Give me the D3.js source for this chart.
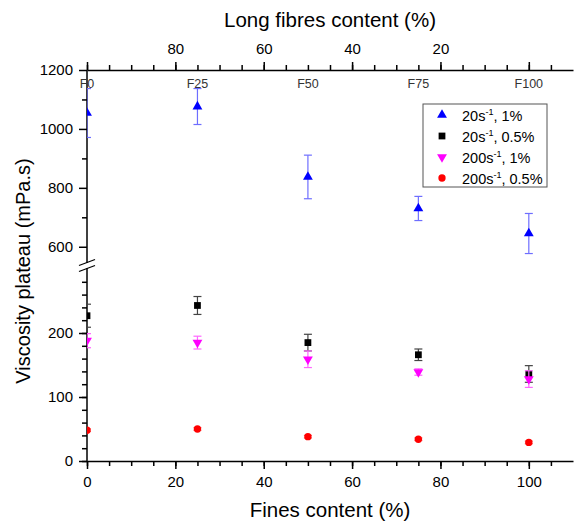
<!DOCTYPE html>
<html>
<head>
<meta charset="utf-8">
<script src="https://cdn.jsdelivr.net/npm/d3@7"></script>
<style>
  body { margin: 0; background: #fff; }
  svg { font-family: 'Liberation Sans', Arial, sans-serif; }
</style>
</head>
<body>
<div id="chart"></div>
<script>
// fines content (%) on the bottom axis, long fibres = 100 - fines on top
const finesContent = [0, 25, 50, 75, 100];
const sampleLabels = ['F0', 'F25', 'F50', 'F75', 'F100'];

const visc20s1pc = [1054, 1076, 837, 730, 645];
const err20s1pc = [83, 61, 74, 41, 68];
const visc20s05pc = [227, 243, 185, 166, 136];
const err20s05pc = [18, 14, 13, 9, 13];
const visc200s1pc = [188, 185, 159, 139, 128];
const err200s1pc = [11, 10, 13, 5, 13];
const visc200s05pc = [48, 50, 38, 34, 29];
const err200s05pc = [2, 2, 2, 2, 2];

const bottomTicks = [0, 20, 40, 60, 80, 100];
const topTicks = [80, 60, 40, 20];
const lowerTicks = [0, 100, 200];
const upperTicks = [600, 800, 1000, 1200];

const width = 576;
const height = 522;
const plotLeft = 87;
const plotRight = 573;
const plotTop = 70;
const plotBottom = 461;

const svg = d3
  .select('#chart')
  .append('svg')
  .attr('width', width)
  .attr('height', height);

const x = d3.scaleLinear().domain([0, 110]).range([plotLeft, plotRight]);
const xLong = d3.scaleLinear().domain([100, -10]).range([plotLeft, plotRight]);
// broken y axis: two linear pieces
const yLow = d3.scaleLinear().domain([0, 300]).range([plotBottom, 269]);
const yHigh = d3.scaleLinear().domain([550, 1200]).range([261.5, plotTop]);
const y = v => (v > 400 ? yHigh(v) : yLow(v));
const plain = d => String(d);

const styleAxis = (g, fontSize) => {
  g.selectAll('.domain').attr('stroke', '#000').attr('stroke-width', 1.5);
  g.selectAll('.tick line').attr('stroke', '#000').attr('stroke-width', 1.5);
  g.selectAll('text')
    .attr('fill', '#000')
    .style('font-size', fontSize + 'px')
    .style('font-family', "'Liberation Sans', Arial, sans-serif");
};

// bottom axis
svg
  .append('g')
  .attr('transform', `translate(0,${plotBottom})`)
  .call(
    d3.axisBottom(x).tickValues(d3.range(0, 110, 5)).tickSize(5).tickFormat('').tickSizeOuter(0)
  )
  .call(g => styleAxis(g, 15));
svg
  .append('g')
  .attr('transform', `translate(0,${plotBottom})`)
  .call(
    d3.axisBottom(x).tickValues(bottomTicks).tickSize(8).tickPadding(7).tickFormat(plain).tickSizeOuter(0)
  )
  .call(g => g.select('.domain').remove())
  .call(g => styleAxis(g, 15));

// top axis (long fibres)
svg
  .append('g')
  .attr('transform', `translate(0,${plotTop})`)
  .call(
    d3.axisTop(xLong).tickValues(d3.range(100, -10, -5)).tickSize(5).tickFormat('').tickSizeOuter(0)
  )
  .call(g => styleAxis(g, 15));
svg
  .append('g')
  .attr('transform', `translate(0,${plotTop})`)
  .call(
    d3.axisTop(xLong)
      .tickValues([100, 80, 60, 40, 20, 0])
      .tickSize(8)
      .tickPadding(8)
      .tickFormat(d => (topTicks.includes(d) ? plain(d) : ''))
  )
  .call(g => g.select('.domain').remove())
  .call(g => styleAxis(g, 15));

// left axis, lower part
svg
  .append('g')
  .attr('transform', `translate(${plotLeft},0)`)
  .call(d3.axisLeft(yLow).tickValues(d3.range(0, 300, 20)).tickSize(5).tickFormat('').tickSizeOuter(0))
  .call(g => g.select('.domain').attr('d', `M0,${plotBottom}V268`))
  .call(g => styleAxis(g, 15));
svg
  .append('g')
  .attr('transform', `translate(${plotLeft},0)`)
  .call(d3.axisLeft(yLow).tickValues(lowerTicks).tickSize(8).tickPadding(6).tickFormat(plain))
  .call(g => g.select('.domain').remove())
  .call(g => styleAxis(g, 15));

// left axis, upper part
svg
  .append('g')
  .attr('transform', `translate(${plotLeft},0)`)
  .call(d3.axisLeft(yHigh).tickValues([700, 900, 1100]).tickSize(5).tickFormat('').tickSizeOuter(0))
  .call(g => g.select('.domain').attr('d', `M0,263V${plotTop}`))
  .call(g => styleAxis(g, 15));
svg
  .append('g')
  .attr('transform', `translate(${plotLeft},0)`)
  .call(d3.axisLeft(yHigh).tickValues(upperTicks).tickSize(8).tickPadding(6).tickFormat(plain))
  .call(g => g.select('.domain').remove())
  .call(g => styleAxis(g, 15));

// break marks
[0, 6].forEach(off => {
  svg
    .append('line')
    .attr('x1', plotLeft - 8)
    .attr('y1', 265.5 + off)
    .attr('x2', plotLeft + 8)
    .attr('y2', 259.5 + off)
    .attr('stroke', '#000')
    .attr('stroke-width', 1.3);
});

// sample labels under top axis
svg
  .append('g')
  .selectAll('text')
  .data(finesContent)
  .join('text')
  .attr('x', d => x(d))
  .attr('y', 87.5)
  .attr('text-anchor', 'middle')
  .style('font-size', '12.5px')
  .attr('fill', '#333')
  .text((d, i) => sampleLabels[i]);

// axis titles
svg
  .append('text')
  .attr('x', (plotLeft + plotRight) / 2)
  .attr('y', 27)
  .attr('text-anchor', 'middle')
  .style('font-size', '20.5px')
  .text('Long fibres content (%)');

svg
  .append('text')
  .attr('x', (plotLeft + plotRight) / 2)
  .attr('y', 517)
  .attr('text-anchor', 'middle')
  .style('font-size', '20.5px')
  .text('Fines content (%)');

svg
  .append('text')
  .attr('transform', 'translate(30,271) rotate(-90)')
  .attr('text-anchor', 'middle')
  .style('font-size', '20px')
  .text('Viscosity plateau (mPa.s)');

// data
const series = [
  { values: visc20s1pc, errs: err20s1pc, colour: '#0000ff', bar: '#6e6eff', symbol: d3.symbolTriangle, size: 42, rot: 0, rate: '20', conc: '1%' },
  { values: visc20s05pc, errs: err20s05pc, colour: '#000000', bar: '#444444', symbol: d3.symbolSquare, size: 46, rot: 0, rate: '20', conc: '0.5%' },
  { values: visc200s1pc, errs: err200s1pc, colour: '#ff00ff', bar: '#ff66ff', symbol: d3.symbolTriangle, size: 42, rot: 180, rate: '200', conc: '1%' },
  { values: visc200s05pc, errs: err200s05pc, colour: '#ff0000', bar: '#ff6666', symbol: d3.symbolCircle, size: 42, rot: 0, rate: '200', conc: '0.5%' },
];

svg
  .append('clipPath')
  .attr('id', 'plotClip')
  .append('rect')
  .attr('x', plotLeft)
  .attr('y', plotTop)
  .attr('width', plotRight - plotLeft)
  .attr('height', plotBottom - plotTop);

const plot = svg.append('g').attr('clip-path', 'url(#plotClip)');

series.forEach(s => {
  const pts = finesContent.map((f, i) => ({ f, v: s.values[i], e: s.errs[i] }));
  const bars = plot.append('g').attr('stroke', s.bar).attr('stroke-width', 1.2);
  pts.forEach(p => {
    const px = x(p.f);
    const y1 = y(p.v + p.e);
    const y2 = y(p.v - p.e);
    bars.append('line').attr('x1', px).attr('x2', px).attr('y1', y1).attr('y2', y2);
    bars.append('line').attr('x1', px - 4).attr('x2', px + 4).attr('y1', y1).attr('y2', y1);
    bars.append('line').attr('x1', px - 4).attr('x2', px + 4).attr('y1', y2).attr('y2', y2);
  });
  plot
    .append('g')
    .selectAll('path')
    .data(pts)
    .join('path')
    .attr('d', d3.symbol().type(s.symbol).size(s.size))
    .attr('transform', p => `translate(${x(p.f)},${y(p.v)}) rotate(${s.rot})`)
    .attr('fill', s.colour);
});

// legend
const legend = svg.append('g').attr('transform', 'translate(423,104)');
legend
  .append('rect')
  .attr('width', 124)
  .attr('height', 83)
  .attr('fill', '#fff')
  .attr('stroke', '#555')
  .attr('stroke-width', 1);

series.forEach((s, i) => {
  const row = legend.append('g').attr('transform', `translate(0,${11 + i * 21})`);
  row
    .append('path')
    .attr('d', d3.symbol().type(s.symbol).size(s.size))
    .attr('transform', `translate(19,0) rotate(${s.rot})`)
    .attr('fill', s.colour);
  const t = row
    .append('text')
    .attr('x', 39)
    .attr('y', 5.5)
    .style('font-size', '14.5px');
  t.append('tspan').text(s.rate + 's');
  t.append('tspan').attr('dy', -6).style('font-size', '9px').text('-1');
  t.append('tspan').attr('dy', 6).text(', ' + s.conc);
});
</script>
</body>
</html>
